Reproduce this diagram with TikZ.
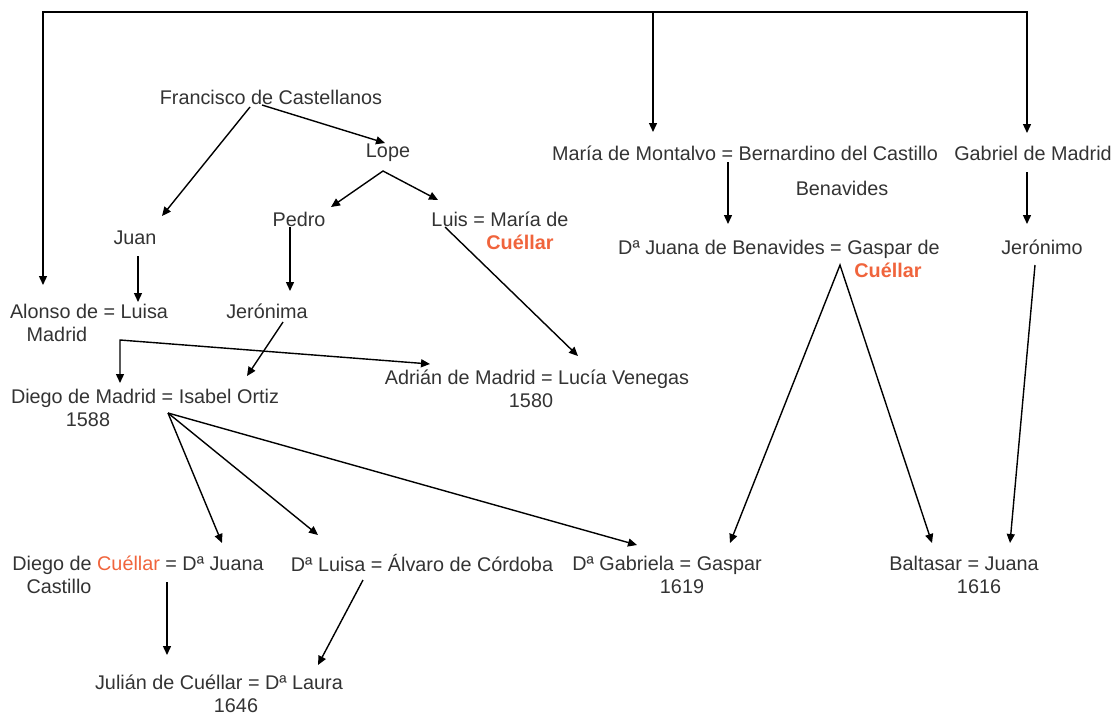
\documentclass[tikz,border=0pt]{standalone}
\usepackage{fontspec}
\setmainfont{Liberation Sans}
\usetikzlibrary{arrows.meta,calc}
\definecolor{namegray}{HTML}{333333}
\definecolor{cuellar}{HTML}{F0643C}
\newcommand{\Cue}{\textcolor{cuellar}{Cuéllar}}
\newcommand{\CueB}{\textcolor{cuellar}{\bfseries Cuéllar}}
\begin{document}
\begin{tikzpicture}[x=1pt, y=-1pt, >={Triangle[length=9pt,width=8pt]},
  every node/.style={inner sep=0pt, align=center, text=namegray,
    font=\fontsize{19.8}{23}\selectfont},
  line/.style={->, line width=1.4pt, black}]
\useasboundingbox (0,0) rectangle (1115,715);

% Castellanos
\node (Fran) at (271,97) {Francisco de Castellanos};
\node (Lope) at (388,153) {Lope};
\node (Juan) at (135,238) {Juan};
\node (Pedro) at (299,219) {Pedro};
\node (Luis) at (500,230.5) {Luis = María de\\\hspace*{40pt}\CueB};
\node (Jeronima) at (267,311) {Jerónima};
\node (Alonso) at (89,322.5) {Alonso de = Luisa\\Madrid\hspace*{64pt}};

% Madrid
\node (DiegoM) at (145,407.5) {Diego de Madrid = Isabel Ortiz\\1588\hspace*{114pt}};
\node (Adrian) at (537,388.5) {Adrián de Madrid = Lucía Venegas\\1580\hspace*{12pt}};

% hijos de Diego
\node (DiegoC) at (138,574.5) {Diego de \Cue{} = Dª Juana\\Castillo\hspace*{158pt}};
\node (Luisa) at (422,563) {Dª Luisa = Álvaro de Córdoba};
\node (Gabriela) at (667,574.5) {Dª Gabriela = Gaspar\\\hspace*{30pt}1619};
\node (Julian) at (219,694) {Julián de Cuéllar = Dª Laura\\\hspace*{34pt}1646};

% rama derecha
\node (Maria) at (745,170.5) {María de Montalvo = Bernardino del Castillo\\[12pt]\hspace*{194pt}Benavides};
\node (JuanaB) at (779,258.5) {Dª Juana de Benavides = Gaspar de\\\hspace*{218pt}\CueB};
\node (Gabriel) at (1033,153) {Gabriel de Madrid};
\node (Jeronimo) at (1042,247) {Jerónimo};
\node (Baltasar) at (964,574.5) {Baltasar = Juana\\\hspace*{30pt}1616};

% Klammer oben
\coordinate (topL) at (43,12);
\coordinate (topM) at (653,12);
\coordinate (topR) at (1027,12);
\draw[line, <->] ($(Alonso)+(-46,-37.5)$) -- (topL) -- (topR) -- ($(Gabriel)+(-6,-20)$);
\draw[line] (topM) -- ($(Maria)+(-92,-38.5)$);

% Francisco, Lope
\draw[line] ($(Fran)+(-21,10)$) -- ($(Juan)+(27,-22)$);
\draw[line] ($(Fran)+(-9,8)$) -- ($(Lope)+(-3,-10)$);
\draw[line, <->] ($(Pedro)+(32,-12)$) -- ($(Lope)+(-5,18)$) -- ($(Luis)+(-62,-30.5)$);

\draw[line] ($(Juan)+(3,18)$) -- ($(Alonso)+(49,-20.5)$);
\draw[line] ($(Pedro)+(-9,8)$) -- ($(Jeronima)+(23,-20)$);
\draw[line] ($(Jeronima)+(16,11)$) -- ($(DiegoM)+(102,-31.5)$);

% Alonso zu Diego und Adrian
\coordinate (AlonsoJ) at ($(Alonso)+(31,17.5)$);
\draw[line, <->] ($(DiegoM)+(-25,-24.5)$) -- (AlonsoJ) -- ($(Adrian)+(-107,-24.5)$);
\draw[line] ($(Luis)+(-55,-3.5)$) -- ($(Adrian)+(41,-32.5)$);

% Diego zu den Kindern
\draw[line] ($(DiegoM)+(23,5.5)$) -- ($(DiegoC)+(84,-31.5)$);
\draw[line] ($(DiegoM)+(23,5.5)$) -- ($(Luisa)+(-104,-28)$);
\draw[line] ($(DiegoM)+(23,5.5)$) -- ($(Gabriela)+(-30,-29.5)$);

\draw[line] ($(DiegoC)+(29,7.5)$) -- ($(Julian)+(-52,-39)$);
\draw[line] ($(Luisa)+(-59,17)$) -- ($(Julian)+(99,-29)$);

% rechte Seite
\draw[line] ($(Maria)+(-17,-8.5)$) -- ($(JuanaB)+(-51,-34.5)$);
\draw[line] ($(Gabriel)+(-6,19)$) -- ($(Jeronimo)+(-15,-23)$);
\draw[line, <->] ($(Gabriela)+(63,-31.5)$) -- ($(JuanaB)+(61,6.5)$) -- ($(Baltasar)+(-32,-31.5)$);
\draw[line] ($(Jeronimo)+(-7,18)$) -- ($(Baltasar)+(46,-31.5)$);

\end{tikzpicture}
\end{document}
